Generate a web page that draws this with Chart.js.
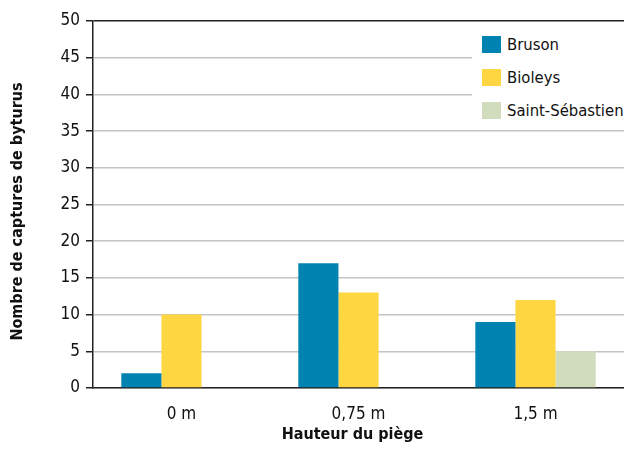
<!DOCTYPE html>
<html>
<head>
<meta charset="utf-8">
<script src="https://cdn.jsdelivr.net/npm/chart.js@4.4.1/dist/chart.umd.min.js"></script>
<style>
  html, body { margin: 0; padding: 0; background: #fff; }
  #wrap { position: relative; width: 624px; height: 450px; overflow: hidden; }
  #legend { position: absolute; left: 472px; top: 23px; width: 152px; height: 102px; background: #fff;
            font-family: "DejaVu Sans Condensed", sans-serif; font-size: 16.5px; color: #111; white-space: nowrap; }
  .item { position: absolute; left: 10px; height: 18px; display: flex; align-items: center; }
  .sw { width: 19px; height: 17px; margin-right: 6px; flex: none; }
</style>
</head>
<body>
<div id="wrap">
  <canvas id="c" width="624" height="450"></canvas>
  <div id="legend"></div>
</div>
<script>
const categories = ["0 m", "0,75 m", "1,5 m"];
const seriesNames = ["Bruson", "Bioleys", "Saint-Sébastien"];
const bruson = [2, 17, 9];
const bioleys = [10, 13, 12];
const saintSebastien = [0, 0, 5];
const colors = ["#0083b0", "#fdd642", "#d0dcbc"];
const yTicks = [0, 5, 10, 15, 20, 25, 30, 35, 40, 45, 50];
const xTitle = "Hauteur du piège";
const yTitle = "Nombre de captures de byturus";

const values = [bruson, bioleys, saintSebastien];
const FONT = '"DejaVu Sans Condensed", sans-serif';

const legend = document.getElementById('legend');
seriesNames.forEach((n, i) => {
  const d = document.createElement('div');
  d.className = 'item';
  d.style.top = (12 + i * 33) + 'px';
  d.innerHTML = '<span class="sw" style="background:' + colors[i] + '"></span><span>' + n + '</span>';
  legend.appendChild(d);
});

const axisTitles = {
  id: 'axisTitles',
  afterDraw(chart) {
    const ctx = chart.ctx;
    const a = chart.chartArea;
    ctx.save();
    ctx.fillStyle = '#111';
    ctx.font = 'bold 16px ' + FONT;
    ctx.textAlign = 'center';
    ctx.textBaseline = 'middle';
    ctx.fillText(xTitle, (a.left + a.right) / 2 - 6, 435);
    ctx.translate(18, (a.top + a.bottom) / 2 + 7);
    ctx.rotate(-Math.PI / 2);
    ctx.fillText(yTitle, 0, 0);
    ctx.restore();
  }
};

new Chart(document.getElementById('c'), {
  type: 'bar',
  data: {
    labels: categories,
    datasets: seriesNames.map((n, i) => ({
      label: n,
      data: values[i],
      backgroundColor: colors[i],
      borderWidth: 0,
      barPercentage: 1,
      categoryPercentage: 0.68
    }))
  },
  plugins: [axisTitles],
  options: {
    responsive: false,
    animation: false,
    layout: { padding: { top: 21, right: 0, left: 0, bottom: 0 } },
    plugins: { legend: { display: false }, tooltip: { enabled: false } },
    scales: {
      x: {
        grid: { display: false },
        border: { color: '#222', width: 1.5 },
        ticks: { font: { family: FONT, size: 17 }, color: '#111', padding: 8 },
        afterFit: s => { s.height = 62; }
      },
      y: {
        min: 0, max: 50,
        afterBuildTicks: s => { s.ticks = yTicks.map(v => ({ value: v })); },
        grid: {
          color: c => c.tick && c.tick.value === 50 ? '#222' : '#c4c4c4',
          lineWidth: 1.5,
          tickColor: '#222', tickLength: 7, drawTicks: true
        },
        border: { color: '#222', width: 1.5 },
        ticks: { font: { family: FONT, size: 17 }, color: '#111', padding: 6 },
        afterFit: s => { s.width = 93; }
      }
    }
  }
});
</script>
</body>
</html>
